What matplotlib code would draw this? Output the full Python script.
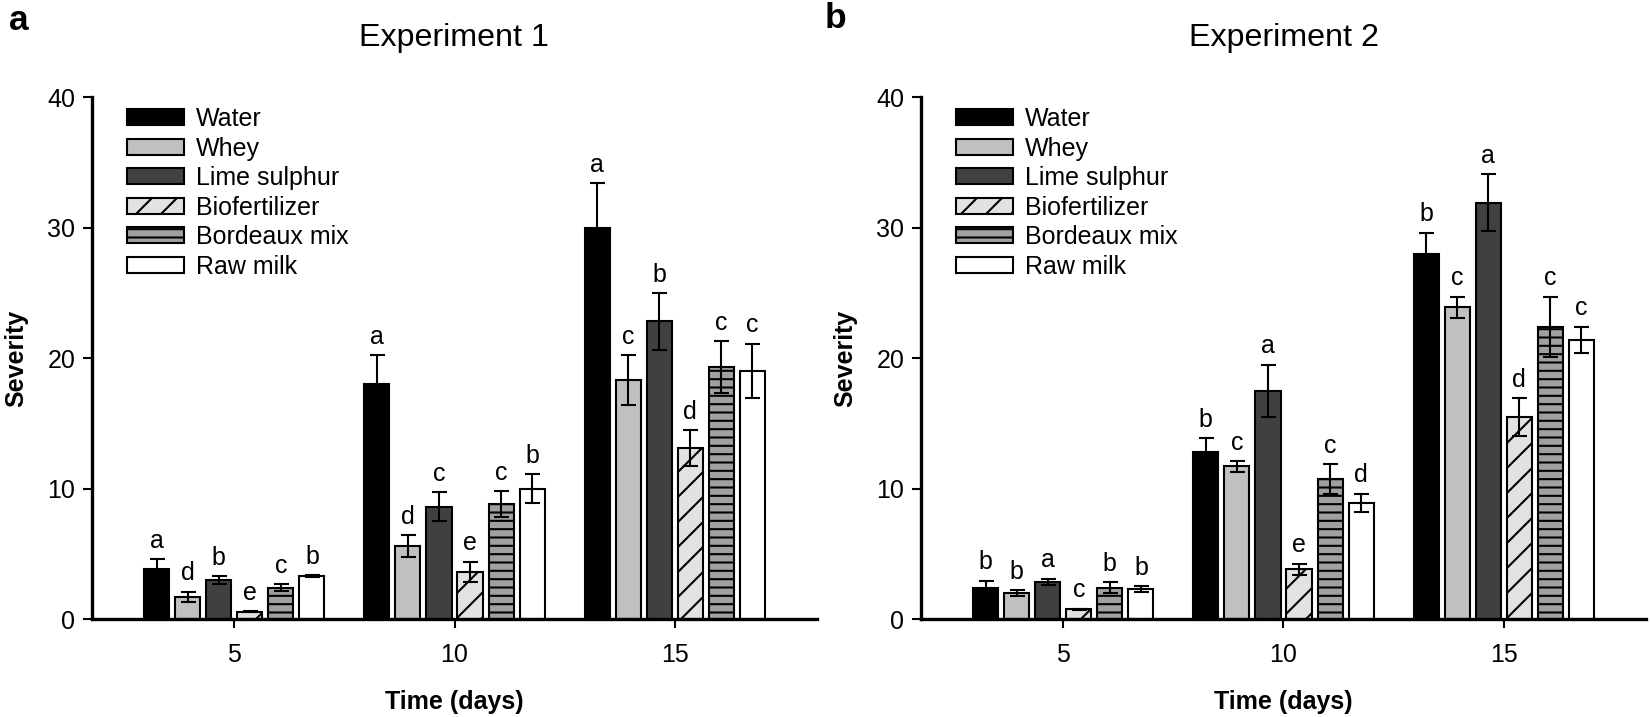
import numpy as np
import matplotlib
matplotlib.use('Agg')
import matplotlib.pyplot as plt

"""data read off the figure"""
days = [5, 10, 15]
treatments = ['Water', 'Whey', 'Lime sulphur', 'Biofertilizer', 'Bordeaux mix', 'Raw milk']

# Experiment 1, rows = treatments, cols = days
exp1_mean = [[3.8, 18.0, 30.0],
             [1.7, 5.6, 18.3],
             [3.0, 8.6, 22.8],
             [0.55, 3.6, 13.1],
             [2.4, 8.8, 19.3],
             [3.3, 10.0, 19.0]]
exp1_err = [[0.8, 2.2, 3.4],
            [0.4, 0.85, 1.9],
            [0.3, 1.1, 2.2],
            [0.05, 0.8, 1.4],
            [0.25, 1.0, 2.0],
            [0.06, 1.1, 2.1]]
exp1_letters = [['a', 'a', 'a'],
                ['d', 'd', 'c'],
                ['b', 'c', 'b'],
                ['e', 'e', 'd'],
                ['c', 'c', 'c'],
                ['b', 'b', 'c']]

# Experiment 2
exp2_mean = [[2.4, 12.8, 28.0],
             [2.0, 11.7, 23.9],
             [2.85, 17.5, 31.9],
             [0.75, 3.8, 15.5],
             [2.4, 10.7, 22.4],
             [2.3, 8.9, 21.4]]
exp2_err = [[0.55, 1.05, 1.6],
            [0.2, 0.4, 0.8],
            [0.25, 2.0, 2.2],
            [0.05, 0.45, 1.45],
            [0.4, 1.15, 2.3],
            [0.2, 0.7, 1.0]]
exp2_letters = [['b', 'b', 'b'],
                ['b', 'c', 'c'],
                ['a', 'a', 'a'],
                ['c', 'e', 'd'],
                ['b', 'c', 'c'],
                ['b', 'd', 'c']]

"""bar styles"""
face_colors = ['#000000', '#c0c0c0', '#404040', '#e2e2e2', '#a0a0a0', '#ffffff']
hatches = [None, None, None, '//', '---', None]

plt.rcParams['font.family'] = ['Liberation Sans', 'DejaVu Sans']
plt.rcParams['hatch.linewidth'] = 1.0
plt.rcParams['hatch.color'] = 'black'

fig = plt.figure(figsize=(11, 4.78), dpi=150)
ax1 = fig.add_axes([0.05576, 0.13668, 0.43939, 0.72803])
ax2 = fig.add_axes([0.55818, 0.13668, 0.43939, 0.72803])

pitch = 0.705
width = 0.57


def draw_panel(ax, means, errs, letters):
    for i, name in enumerate(treatments):
        xs = np.array(days) + (i - 2.5) * pitch
        ax.bar(xs, means[i], width, color=face_colors[i], edgecolor='black',
               linewidth=1.0, hatch=hatches[i], label=name, zorder=2)
        ax.errorbar(xs, means[i], yerr=errs[i], fmt='none', ecolor='black',
                    elinewidth=1.0, capsize=3.6, capthick=1.0, zorder=3)
        for x, m, e, t in zip(xs, means[i], errs[i], letters[i]):
            ax.annotate(t, (x, m + e), xytext=(0, 3), textcoords='offset points',
                        ha='center', va='bottom', fontsize=12)
    ax.set_xlim(1.77, 18.23)
    ax.set_ylim(0, 40)
    ax.set_xticks(days)
    ax.set_yticks([0, 10, 20, 30, 40])
    ax.spines['top'].set_visible(False)
    ax.spines['right'].set_visible(False)
    ax.spines['left'].set_linewidth(1.6)
    ax.spines['bottom'].set_linewidth(1.6)
    ax.tick_params(axis='both', direction='out', length=4.5, width=1.0, labelsize=12)
    ax.tick_params(axis='x', pad=7)
    ax.set_xlabel('Time (days)', fontsize=12, fontweight='bold', labelpad=11)
    ax.set_ylabel('Severity', fontsize=12, fontweight='bold', labelpad=9)
    ax.legend(loc='upper left', bbox_to_anchor=(0.035, 1.0), frameon=False,
              fontsize=12, handlelength=2.25, handleheight=0.6,
              handletextpad=0.5, labelspacing=0.22, borderaxespad=0.0)


draw_panel(ax1, exp1_mean, exp1_err, exp1_letters)
draw_panel(ax2, exp2_mean, exp2_err, exp2_letters)

"""titles and panel letters"""
fig.text(454 / 1650, 1 - 38 / 717, 'Experiment 1', ha='center', va='center', fontsize=15.5)
fig.text(1284 / 1650, 1 - 38 / 717, 'Experiment 2', ha='center', va='center', fontsize=15.5)
fig.text(19 / 1650, 1 - 21 / 717, 'a', ha='center', va='center', fontsize=17, fontweight='bold')
fig.text(835 / 1650, 1 - 19 / 717, 'b', ha='center', va='center', fontsize=17, fontweight='bold')

fig.savefig('out.png', dpi=150)
